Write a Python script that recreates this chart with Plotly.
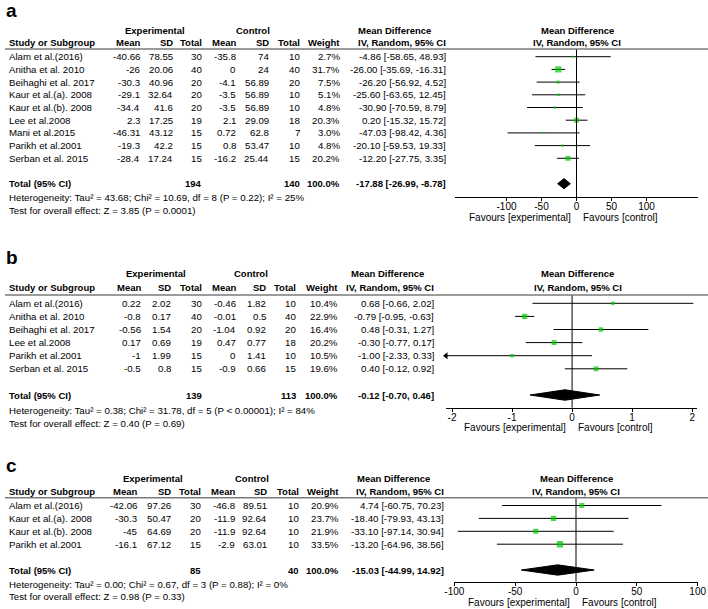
import math
import plotly.graph_objects as go

W, H = 708, 609
FONT = "Arial, 'Liberation Sans', sans-serif"
GREEN = "#00c800"

# ---------------- Panel a data ----------------
a_studies = ["Alam et al.(2016)", "Anitha et al. 2010", "Beihaghi et al. 2017", "Kaur et al.(a). 2008",
             "Kaur et al.(b). 2008", "Lee et al.2008", "Mani et al.2015", "Parikh et al.2001", "Serban et al. 2015"]
a_exp_mean = [-40.66, -26, -30.3, -29.1, -34.4, 2.3, -46.31, -19.3, -28.4]
a_exp_sd = [78.55, 20.06, 40.96, 32.64, 41.6, 17.25, 43.12, 42.2, 17.24]
a_exp_n = [30, 40, 20, 20, 20, 19, 15, 15, 15]
a_ctl_mean = [-35.8, 0, -4.1, -3.5, -3.5, 2.1, 0.72, 0.8, -16.2]
a_ctl_sd = [74, 24, 56.89, 56.89, 56.89, 29.09, 62.8, 53.47, 25.44]
a_ctl_n = [10, 40, 20, 10, 10, 18, 7, 10, 15]
a_weight = [2.7, 31.7, 7.5, 5.1, 4.8, 20.3, 3.0, 4.8, 20.2]
a_md = [-4.86, -26.00, -26.20, -25.60, -30.90, 0.20, -47.03, -20.10, -12.20]
a_lo = [-58.65, -35.69, -56.92, -63.65, -70.59, -15.32, -98.42, -59.53, -27.75]
a_hi = [48.93, -16.31, 4.52, 12.45, 8.79, 15.72, 4.36, 19.33, 3.35]
a_total = [-17.88, -26.99, -8.78]
a_het = "Heterogeneity: Tau² = 43.68; Chi² = 10.69, df = 8 (P = 0.22); I² = 25%"
a_test = "Test for overall effect: Z = 3.85 (P = 0.0001)"
a_ticks = [-100, -50, 0, 50, 100]

# ---------------- Panel b data ----------------
b_studies = ["Alam et al.(2016)", "Anitha et al. 2010", "Beihaghi et al. 2017", "Lee et al.2008",
             "Parikh et al.2001", "Serban et al. 2015"]
b_exp_mean = [0.22, -0.8, -0.56, 0.17, -1, -0.5]
b_exp_sd = [2.02, 0.17, 1.54, 0.69, 1.99, 0.8]
b_exp_n = [30, 40, 20, 19, 15, 15]
b_ctl_mean = [-0.46, -0.01, -1.04, 0.47, 0, -0.9]
b_ctl_sd = [1.82, 0.5, 0.92, 0.77, 1.41, 0.66]
b_ctl_n = [10, 40, 20, 18, 10, 15]
b_weight = [10.4, 22.9, 16.4, 20.2, 10.5, 19.6]
b_md = [0.68, -0.79, 0.48, -0.30, -1.00, 0.40]
b_lo = [-0.66, -0.95, -0.31, -0.77, -2.33, -0.12]
b_hi = [2.02, -0.63, 1.27, 0.17, 0.33, 0.92]
b_total = [-0.12, -0.70, 0.46]
b_het = "Heterogeneity: Tau² = 0.38; Chi² = 31.78, df = 5 (P < 0.00001); I² = 84%"
b_test = "Test for overall effect: Z = 0.40 (P = 0.69)"
b_ticks = [-2, -1, 0, 1, 2]

# ---------------- Panel c data ----------------
c_studies = ["Alam et al.(2016)", "Kaur et al.(a). 2008", "Kaur et al.(b). 2008", "Parikh et al.2001"]
c_exp_mean = [-42.06, -30.3, -45, -16.1]
c_exp_sd = [97.26, 50.47, 64.69, 67.12]
c_exp_n = [30, 20, 20, 15]
c_ctl_mean = [-46.8, -11.9, -11.9, -2.9]
c_ctl_sd = [89.51, 92.64, 92.64, 63.01]
c_ctl_n = [10, 10, 10, 10]
c_weight = [20.9, 23.7, 21.9, 33.5]
c_md = [4.74, -18.40, -33.10, -13.20]
c_lo = [-60.75, -79.93, -97.14, -64.96]
c_hi = [70.23, 43.13, 30.94, 38.56]
c_total = [-15.03, -44.99, 14.92]
c_het = "Heterogeneity: Tau² = 0.00; Chi² = 0.67, df = 3 (P = 0.88); I² = 0%"
c_test = "Test for overall effect: Z = 0.98 (P = 0.33)"
c_ticks = [-100, -50, 0, 50, 100]

panels = [
    dict(studies=a_studies, em=a_exp_mean, esd=a_exp_sd, en=a_exp_n, cm=a_ctl_mean, csd=a_ctl_sd, cn=a_ctl_n,
         w=a_weight, md=a_md, lo=a_lo, hi=a_hi, total=a_total, het=a_het, test=a_test, ticks=a_ticks),
    dict(studies=b_studies, em=b_exp_mean, esd=b_exp_sd, en=b_exp_n, cm=b_ctl_mean, csd=b_ctl_sd, cn=b_ctl_n,
         w=b_weight, md=b_md, lo=b_lo, hi=b_hi, total=b_total, het=b_het, test=b_test, ticks=b_ticks),
    dict(studies=c_studies, em=c_exp_mean, esd=c_exp_sd, en=c_exp_n, cm=c_ctl_mean, csd=c_ctl_sd, cn=c_ctl_n,
         w=c_weight, md=c_md, lo=c_lo, hi=c_hi, total=c_total, het=c_het, test=c_test, ticks=c_ticks),
]

# layout geometry (pixels)
configs = [
    dict(label="a", top=0, bot=232, y0=56.7, s=12.7, xpx=(455, 698), xrange=[-173.6, 173.6], axis_px=197.3,
         cols=[141, 173.7, 203.5, 237, 269.5, 300.5, 341, 447], exp_c=155, ctl_c=253, md_c=394.5, plot_c=577,
         label_px=10, h1_px=30, h2_px=42.7, line_px=49, het_px=197, test_px=210, fav_px=217),
    dict(label="b", top=240, bot=437, y0=303.3, s=13.1, xpx=(446, 697), xrange=[-2.1, 2.08], axis_px=407.7,
         cols=[141.7, 171.7, 203.3, 236.7, 267, 297, 339.3, 435], exp_c=156.3, ctl_c=250.5, md_c=388, plot_c=577.5,
         label_px=257, h1_px=273.3, h2_px=287.7, line_px=295, het_px=410, test_px=423.3, fav_px=427.7),
    dict(label="c", top=452, bot=609, y0=505.5, s=12.9, xpx=(454.3, 697.7), xrange=[-100, 100], axis_px=581.7,
         cols=[138, 171.7, 202.3, 235.7, 268.3, 300, 340, 445], exp_c=152.5, ctl_c=251.7, md_c=393, plot_c=576,
         label_px=465, h1_px=478.3, h2_px=491.7, line_px=497.7, het_px=584, test_px=596.7, fav_px=602.7),
]

REG = 9.7
BOLD = 9.5

fig = go.Figure()
annotations = []
shapes = []


def fmt(v):
    return f"{v:g}"


for idx, (d, cfg) in enumerate(zip(panels, configs), start=1):
    ax = "" if idx == 1 else str(idx)
    xn, yn = "x" + ax, "y" + ax
    oax = str(idx + 3)
    y0, s = cfg["y0"], cfg["s"]

    def row(py, y0=y0, s=s):
        return (py - y0) / s

    n = len(d["studies"])
    rows = list(range(n))
    trow = n + 1
    xr = cfg["xrange"]
    xdom = [cfg["xpx"][0] / W, cfg["xpx"][1] / W]
    pos = 1 - cfg["axis_px"] / H

    fig.update_layout(**{
        "xaxis" + ax: dict(domain=xdom, range=xr, anchor="free",
                           position=pos, showgrid=False, zeroline=False, showline=True,
                           linecolor="black", linewidth=1, ticks="outside", ticklen=3, tickwidth=1,
                           tickcolor="black", tickvals=d["ticks"], ticktext=[fmt(t) for t in d["ticks"]],
                           ticklabelstandoff=-3,
                           tickfont=dict(size=10, color="black", family=FONT), fixedrange=True),
        "xaxis" + oax: dict(domain=xdom, range=xr, anchor="free", overlaying=xn,
                            position=pos, showgrid=False, zeroline=False, showline=False,
                            ticks="inside", ticklen=3, tickwidth=1, tickcolor="black",
                            tickvals=d["ticks"], showticklabels=False, fixedrange=True),
        "yaxis" + ax: dict(domain=[1 - cfg["bot"] / H, 1 - cfg["top"] / H],
                           range=[row(cfg["bot"]), row(cfg["top"])], visible=False, fixedrange=True,
                           anchor=xn),
    })

    # CI lines
    cx, cy = [], []
    for i in rows:
        cx += [d["lo"][i], d["hi"][i], None]
        cy += [i, i, None]
    fig.add_trace(go.Scatter(x=cx, y=cy, mode="lines", line=dict(color="black", width=1),
                             xaxis=xn, yaxis=yn, hoverinfo="skip", showlegend=False))
    # arrows for CIs beyond axis
    arr_x = [xr[0] for i in rows if d["lo"][i] < xr[0]]
    arr_y = [i for i in rows if d["lo"][i] < xr[0]]
    if arr_x:
        fig.add_trace(go.Scatter(x=arr_x, y=arr_y, mode="markers", cliponaxis=False,
                                 marker=dict(symbol="triangle-left", size=6, color="black"),
                                 xaxis=xn, yaxis=yn, hoverinfo="skip", showlegend=False))
    # squares
    fig.add_trace(go.Scatter(x=d["md"], y=rows, mode="markers",
                             marker=dict(symbol="square", color=GREEN,
                                         size=[max(2.0, 1.1 * math.sqrt(w)) for w in d["w"]],
                                         line=dict(width=0)),
                             xaxis=xn, yaxis=yn, hoverinfo="skip", showlegend=False))
    # diamond
    est, tlo, thi = d["total"]
    hh = 0.4
    fig.add_trace(go.Scatter(x=[tlo, est, thi, est, tlo], y=[trow, trow - hh, trow, trow + hh, trow],
                             mode="lines", fill="toself", fillcolor="black", line=dict(color="black", width=1),
                             xaxis=xn, yaxis=yn, hoverinfo="skip", showlegend=False))

    # zero line
    shapes.append(dict(type="line", xref=xn, yref=yn, x0=0, x1=0, y0=row(cfg["line_px"]),
                       y1=row(cfg["axis_px"]), line=dict(color="black", width=1)))
    # header rule
    shapes.append(dict(type="line", xref="paper", yref=yn, x0=5 / W, x1=1, y0=row(cfg["line_px"]),
                       y1=row(cfg["line_px"]), line=dict(color="#7a7a7a", width=1.5)))

    def txt(xpx, r, text, anchor="right", bold=False, size=None):
        annotations.append(dict(xref="paper", yref=yn, x=xpx / W, y=r, text=(f"<b>{text}</b>" if bold else text),
                                xanchor=anchor, yanchor="middle", showarrow=False, borderpad=0,
                                font=dict(family=FONT, size=size or (BOLD if bold else REG), color="black")))

    # panel label
    txt(5, row(cfg["label_px"]), cfg["label"], "left", True, 19)
    # headers
    txt(cfg["exp_c"], row(cfg["h1_px"]), "Experimental", "center", True)
    txt(cfg["ctl_c"], row(cfg["h1_px"]), "Control", "center", True)
    txt(cfg["md_c"], row(cfg["h1_px"]), "Mean Difference", "center", True)
    txt(cfg["plot_c"], row(cfg["h1_px"]), "Mean Difference", "center", True)
    h2 = row(cfg["h2_px"])
    txt(8, h2, "Study or Subgroup", "left", True)
    for xpx, lab in zip(cfg["cols"], ["Mean", "SD", "Total", "Mean", "SD", "Total", "Weight",
                                       "IV, Random, 95% CI"]):
        txt(xpx, h2, lab, "right", True)
    txt(cfg["plot_c"], h2, "IV, Random, 95% CI", "center", True)

    # study rows
    c = cfg["cols"]
    for i in rows:
        txt(8, i, d["studies"][i], "left")
        txt(c[0], i, fmt(d["em"][i]))
        txt(c[1], i, fmt(d["esd"][i]))
        txt(c[2], i, fmt(d["en"][i]))
        txt(c[3], i, fmt(d["cm"][i]))
        txt(c[4], i, fmt(d["csd"][i]))
        txt(c[5], i, fmt(d["cn"][i]))
        txt(c[6], i, f"{d['w'][i]:.1f}%")
        txt(c[7], i, f"{d['md'][i]:.2f} [{d['lo'][i]:.2f}, {d['hi'][i]:.2f}]")

    # total row
    txt(8, trow, "Total (95% CI)", "left", True)
    txt(c[2], trow, str(sum(d["en"])), "right", True)
    txt(c[5], trow, str(sum(d["cn"])), "right", True)
    txt(c[6], trow, "100.0%", "right", True)
    txt(c[7], trow, f"{est:.2f} [{tlo:.2f}, {thi:.2f}]", "right", True)
    txt(8, row(cfg["het_px"]), d["het"], "left")
    txt(8, row(cfg["test_px"]), d["test"], "left")

    # favours labels
    x0p, x1p = cfg["xpx"]
    zero_px = x0p + (0 - xr[0]) / (xr[1] - xr[0]) * (x1p - x0p)
    txt(zero_px - 5, row(cfg["fav_px"]), "Favours [experimental]", "right", False, 10)
    txt(zero_px + 5, row(cfg["fav_px"]), "Favours [control]", "left", False, 10)

fig.update_layout(width=W, height=H, margin=dict(l=0, r=0, t=0, b=0, autoexpand=False), plot_bgcolor="white",
                  paper_bgcolor="white", showlegend=False, annotations=annotations, shapes=shapes,
                  font=dict(family=FONT, color="black"))

fig.write_html("out.html", config={"displayModeBar": False},
               post_script="document.body.style.margin='0px';document.documentElement.style.overflow='hidden';")
